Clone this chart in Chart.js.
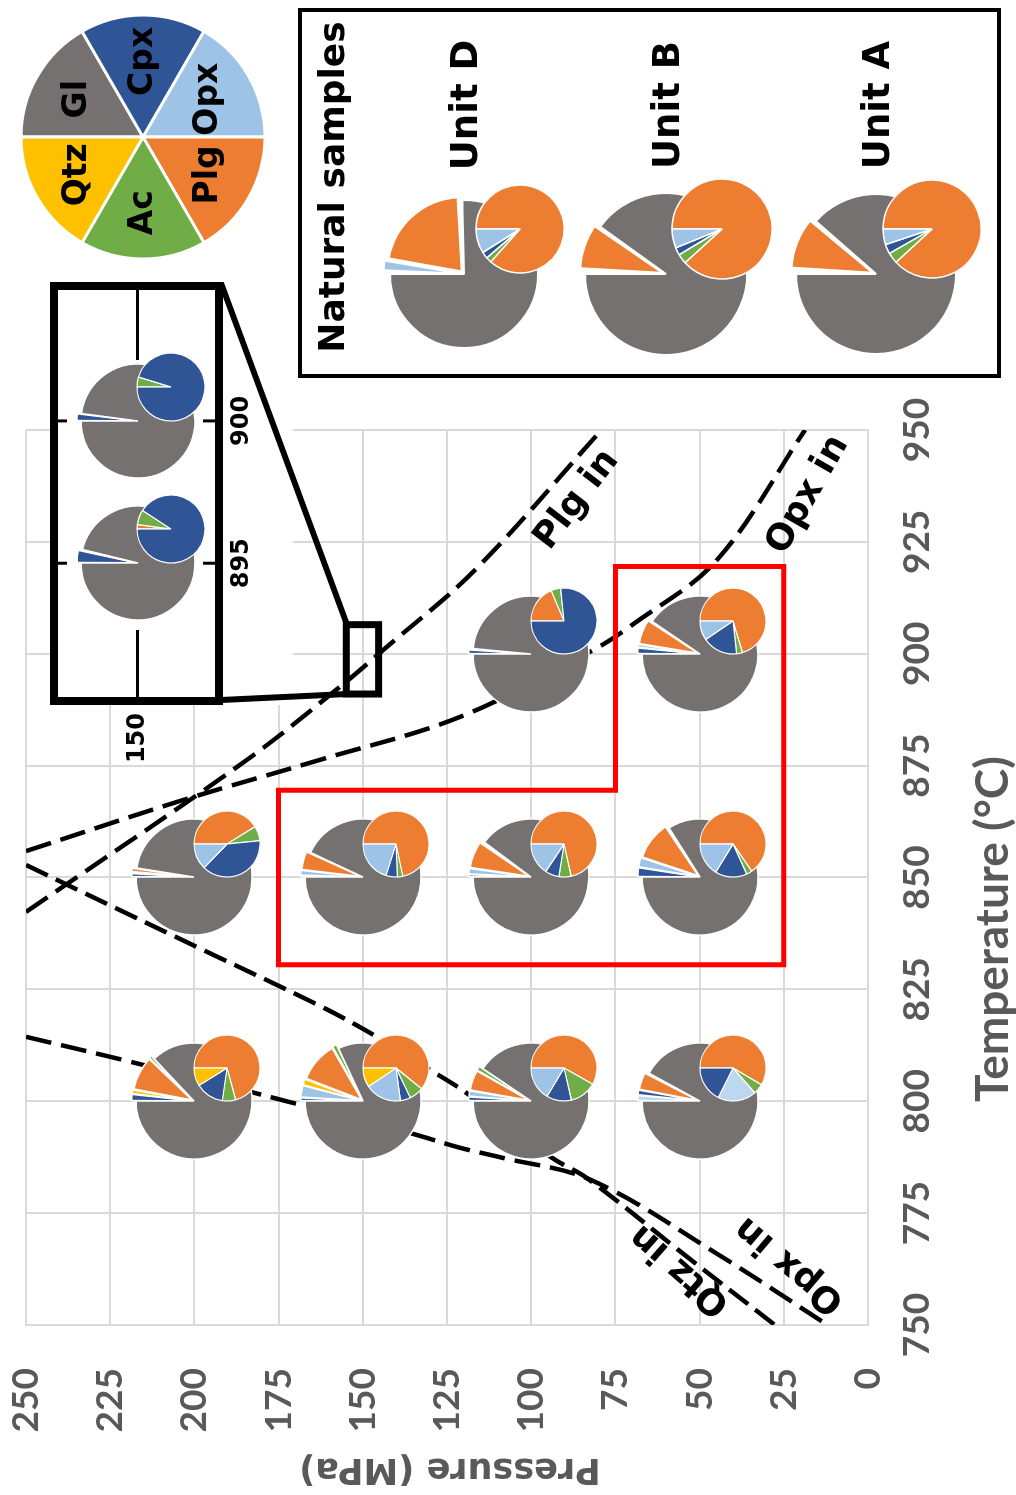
<!DOCTYPE html>
<html>
<head>
<meta charset="utf-8">
<script src="https://cdn.jsdelivr.net/npm/chart.js@4.4.1/dist/chart.umd.min.js"></script>
<style>
  html, body { margin: 0; padding: 0; background: #fff; width: 1016px; height: 1495px; overflow: hidden; }
  /* the figure is laid out landscape and turned a quarter turn counter-clockwise */
  #fig { position: absolute; left: 0; top: 0; width: 1495px; height: 1016px; background: #fff;
         transform-origin: 0 0; transform: translate(0px, 1495px) rotate(-90deg); }
  #fig canvas { position: absolute; }
  .lbl { position: absolute; white-space: nowrap; font-family: 'DejaVu Sans', sans-serif; font-weight: bold;
         color: #000; transform: translate(-50%, -50%); line-height: 1; }
  #natbox { position: absolute; box-sizing: border-box; border: 4px solid #000; background: #fff; }
</style>
</head>
<body>
<div id="fig"><canvas id="main" width="1495" height="1016"></canvas></div>
<script>
// ---------------- data ----------------
// experimental runs: temperature (°C) and pressure (MPa)
const runT = [800, 800, 800, 800, 850, 850, 850, 850, 900, 900];
const runP = [200, 150, 100, 50, 200, 150, 100, 50, 100, 50];
// modal proportions (%)
const runGl  = [87.0, 81.9, 90.55, 92.05, 97.5, 93.03, 89.8, 83.95, 98.5, 90.48];
const runPlg = [9.2, 11.0, 5.5, 4.65, 1.03, 5.0, 7.3, 10.5, 0.28, 6.7];
const runOpx = [0, 3.2, 1.55, 1.5, 0.32, 1.4, 1.6, 2.6, 0, 0.9];
const runCpx = [1.8, 0.9, 1.15, 1.4, 0.97, 0.39, 0.7, 2.5, 1.15, 1.65];
const runAc  = [0.85, 1.26, 1.25, 0.4, 0.18, 0.18, 0.6, 0.45, 0.07, 0.27];
const runQtz = [1.15, 1.7, 0, 0, 0, 0, 0, 0, 0, 0];

// close-up runs across the plagioclase-in curve
const zoomRunT = [895, 900];
const zoomRunP = [150, 150];
const zoomGl  = [96.2, 97.9];
const zoomPlg = [0.08, 0];
const zoomOpx = [0, 0];
const zoomCpx = [3.45, 2.0];
const zoomAc  = [0.27, 0.1];
const zoomQtz = [0, 0];

// natural samples
const natUnits = ['Unit D', 'Unit B', 'Unit A'];
const natGl  = [75.4, 90.08, 88.54];
const natPlg = [21.3, 8.75, 10.1];
const natOpx = [2.2, 0.61, 0.59];
const natCpx = [0.6, 0.24, 0.36];
const natAc  = [0.5, 0.32, 0.41];
const natQtz = [0, 0, 0];

// phase-in boundaries (T °C, P MPa)
const plgInT = [842.3, 876.3, 892.6, 900.8, 918.7, 949.6];
const plgInP = [250, 184.4, 156.8, 144.0, 116.7, 79.6];
const opxInHiT = [855.9, 867.3, 876.3, 885.9, 900.8, 906.4, 921.0, 950];
const opxInHiP = [250, 203.4, 162.7, 121.1, 81.7, 70.1, 44.8, 18.7];
const qtzInT = [852.8, 842.7, 833.8, 821.3, 814.4, 807.0, 801.8, 787.5, 782.8, 766.0, 750];
const qtzInP = [250, 222.1, 197.4, 162.7, 145.8, 130.0, 119.1, 94.1, 83.4, 55.0, 27.6];
const opxInLoT = [814.4, 809.4, 802.3, 799.8, 792.9, 789.6, 787.5, 782.4, 766.0, 750];
const opxInLoP = [250, 222.1, 184.4, 171.6, 136.0, 121.1, 109.3, 82.2, 45.0, 12.0];

// curve labels
const curveLabels = ['Plg in', 'Opx in', 'Qtz in', 'Opx in'];
const curveLabelT = [934.4, 935.5, 762.3, 763.4];
const curveLabelP = [86.4, 17.8, 55.8, 23.2];
const curveLabelAngle = [37.4, 29.7, -48.8, -49.9];

// axis ticks
const tempTicks = [750, 775, 800, 825, 850, 875, 900, 925, 950];
const presTicks = [0, 25, 50, 75, 100, 125, 150, 175, 200, 225, 250];

// outlined groups and close-up window
const groupT = [830.5, 869.5, 869.5, 919.5, 919.5, 830.5];
const groupP = [175, 175, 75, 75, 25, 25];
const windowT = [891, 906.5];
const windowP = [145.3, 154.9];
const closeUpT = [890.3, 904.6];
const closeUpP = [146.4, 153.7];
const closeUpTicksT = [895, 900];
const closeUpTicksP = [150];

// legend
const phaseNames = ['Gl', 'Cpx', 'Opx', 'Plg', 'Ac', 'Qtz'];

// ---------------- styles ----------------
const COL = { Gl: '#767171', Cpx: '#2F5597', Opx: '#9DC3E6', OpxPale: '#BDD7EE', Plg: '#ED7D31', Ac: '#70AD47', Qtz: '#FFC000' };
const GRID = '#D9D9D9';
const AXIS_TXT = '#595959';
const HIDDEN = 'rgba(0,0,0,0)';
const paleOpxRuns = [3];   // run drawn with the pale orthopyroxene tint, placed ahead of Cpx

const fig = document.getElementById('fig');

function bigSlices(gl, plg, opx, cpx, ac, qtz, pale) {
  const px = pale ? [['Opx', opx, COL.OpxPale], ['Cpx', cpx, COL.Cpx]] : [['Cpx', cpx, COL.Cpx], ['Opx', opx, COL.Opx]];
  const s = [...px, ['Qtz', qtz, COL.Qtz], ['Plg', plg, COL.Plg], ['Ac', ac, COL.Ac], ['Gl', gl, COL.Gl]];
  return { values: s.map(d => d[1]), colors: s.map(d => d[2]), names: s.map(d => d[0]) };
}
function smallSlices(plg, opx, cpx, ac, qtz, pale) {
  const px = pale ? [['Opx', opx, COL.OpxPale], ['Cpx', cpx, COL.Cpx]] : [['Cpx', cpx, COL.Cpx], ['Opx', opx, COL.Opx]];
  const s = [['Plg', plg, COL.Plg], ['Ac', ac, COL.Ac], ...px, ['Qtz', qtz, COL.Qtz]];
  return { values: s.map(d => d[1]), colors: s.map(d => d[2]), names: s.map(d => d[0]) };
}

function addPie(cx, cy, r, sl, opts = {}) {
  const offsets = opts.offsets || sl.values.map(() => 0);
  const bw = opts.borderWidth ?? 1.5;
  const pad = Math.ceil(Math.max(0, ...offsets) * 1.4 + bw + 8);
  const size = Math.ceil(2 * (r + pad));
  const cv = document.createElement('canvas');
  cv.width = size; cv.height = size;
  cv.style.left = (cx - size / 2) + 'px';
  cv.style.top = (cy - size / 2) + 'px';
  cv.style.width = size + 'px'; cv.style.height = size + 'px';
  fig.appendChild(cv);
  return new Chart(cv, {
    type: 'pie',
    data: { labels: sl.names, datasets: [{ data: sl.values, backgroundColor: sl.colors, borderColor: '#fff',
            borderWidth: bw, offset: offsets, radius: r }] },
    options: { responsive: false, animation: false, events: [], devicePixelRatio: 1, radius: r,
               layout: { padding: 0 }, plugins: { legend: { display: false }, tooltip: { enabled: false } } },
    plugins: opts.plugins || []
  });
}
function explode(sl, amount) { return sl.names.map(n => n === 'Gl' ? 0 : amount); }

// ---------------- main P–T diagram ----------------
const marks = {
  id: 'marks',
  afterDatasetsDraw(chart) {
    const { ctx } = chart, xs = chart.scales.x, ys = chart.scales.y;
    ctx.save();
    // outlined run group
    ctx.strokeStyle = '#FF0000'; ctx.lineWidth = 5; ctx.lineJoin = 'miter';
    ctx.beginPath();
    groupT.forEach((t, i) => { const px = xs.getPixelForValue(t), py = ys.getPixelForValue(groupP[i]); i ? ctx.lineTo(px, py) : ctx.moveTo(px, py); });
    ctx.closePath(); ctx.stroke();
    // close-up window
    const wl = xs.getPixelForValue(windowT[0]), wr = xs.getPixelForValue(windowT[1]);
    const wt = ys.getPixelForValue(windowP[1]), wb = ys.getPixelForValue(windowP[0]);
    ctx.strokeStyle = '#000'; ctx.lineWidth = 7;
    ctx.strokeRect(wl, wt, wr - wl, wb - wt);
    // curve labels
    ctx.fillStyle = '#000'; ctx.font = "bold 36px 'DejaVu Sans'"; ctx.textAlign = 'center'; ctx.textBaseline = 'middle';
    curveLabels.forEach((s, i) => {
      ctx.save();
      ctx.translate(xs.getPixelForValue(curveLabelT[i]), ys.getPixelForValue(curveLabelP[i]));
      ctx.rotate(curveLabelAngle[i] * Math.PI / 180);
      ctx.fillText(s, 0, 0);
      ctx.restore();
    });
    ctx.restore();
  },
  afterDraw(chart) {
    const { ctx } = chart;
    ctx.save();
    ctx.fillStyle = AXIS_TXT; ctx.textAlign = 'center'; ctx.textBaseline = 'middle';
    ctx.font = "bold 46px Lato";
    ctx.fillText('Temperature (°C)', 566, 993);
    ctx.translate(27, 450); ctx.rotate(-Math.PI / 2);
    ctx.font = "bold 35px 'DejaVu Sans'";
    ctx.fillText('Pressure (MPa)', 0, 0);
    ctx.restore();
  }
};

function curve(ts, ps, dash) {
  return { data: ts.map((t, i) => ({ x: t, y: ps[i] })), showLine: true, borderColor: '#000', borderWidth: 4.5,
           borderDash: dash, pointRadius: 0, tension: 0.35, fill: false, borderCapStyle: 'butt' };
}

const mainChart = new Chart(document.getElementById('main'), {
  type: 'scatter',
  data: { datasets: [
    curve(plgInT, plgInP, [26, 10]),
    curve(opxInHiT, opxInHiP, [26, 10]),
    curve(qtzInT, qtzInP, [24, 9]),
    curve(opxInLoT, opxInLoP, [26, 10])
  ] },
  options: {
    responsive: false, animation: false, events: [], devicePixelRatio: 1,
    layout: { padding: { left: 0, top: 26, right: 430, bottom: 0 } },
    plugins: { legend: { display: false }, tooltip: { enabled: false } },
    scales: {
      x: { type: 'linear', min: 750, max: 950,
           afterBuildTicks: s => { s.ticks = tempTicks.map(v => ({ value: v })); },
           afterFit: s => { s.height = 148; },
           ticks: { color: AXIS_TXT, font: { family: 'Lato', size: 37, weight: 'bold' }, padding: 2, maxRotation: 0 },
           grid: { color: GRID, lineWidth: 2, drawTicks: true, tickLength: 25, tickColor: HIDDEN },
           border: { display: true, color: GRID, width: 2 } },
      y: { type: 'linear', min: 0, max: 250,
           afterBuildTicks: s => { s.ticks = presTicks.map(v => ({ value: v })); },
           afterFit: s => { s.width = 170; },
           ticks: { color: AXIS_TXT, font: { family: 'Lato', size: 37, weight: 'bold' }, padding: 2 },
           grid: { color: GRID, lineWidth: 2, drawTicks: true, tickLength: 41, tickColor: HIDDEN },
           border: { display: true, color: GRID, width: 2 } }
    }
  },
  plugins: [marks]
});

const MX = mainChart.scales.x, MY = mainChart.scales.y;

// pies at each run
const BIG_R = 58, SMALL_R = 33, SMALL_DX = 33, SMALL_DY = 33;
runT.forEach((t, i) => {
  const cx = MX.getPixelForValue(t), cy = MY.getPixelForValue(runP[i]);
  const pale = paleOpxRuns.includes(i);
  const b = bigSlices(runGl[i], runPlg[i], runOpx[i], runCpx[i], runAc[i], runQtz[i], pale);
  addPie(cx, cy, BIG_R, b, { offsets: explode(b, 9) });
  const s = smallSlices(runPlg[i], runOpx[i], runCpx[i], runAc[i], runQtz[i], pale);
  addPie(cx + SMALL_DX, cy + SMALL_DY, SMALL_R, s, { borderWidth: 1.2 });
});

// ---------------- close-up panel ----------------
const CU = { left: 700, top: 20, w: 560, h: 400 };     // canvas placement
const CU_AREA = { left: 98, top: 38, right: 505, bottom: 195 }; // plot box within it
const cuCanvas = document.createElement('canvas');
cuCanvas.width = CU.w; cuCanvas.height = CU.h;
cuCanvas.style.left = CU.left + 'px'; cuCanvas.style.top = CU.top + 'px';
cuCanvas.style.width = CU.w + 'px'; cuCanvas.style.height = CU.h + 'px';
fig.appendChild(cuCanvas);

const cuFrame = {
  id: 'cuFrame',
  beforeDraw(chart) {
    const { ctx } = chart;
    ctx.save(); ctx.fillStyle = '#fff';
    ctx.fillRect(90, 33, 423, 240);
    ctx.restore();
  },
  afterDraw(chart) {
    const { ctx, chartArea: a } = chart, xs = chart.scales.x, ys = chart.scales.y;
    ctx.save();
    ctx.strokeStyle = '#000';
    ctx.lineWidth = 8;
    ctx.strokeRect(a.left - 4, a.top - 4, a.right - a.left + 8, a.bottom - a.top + 8);
    ctx.lineWidth = 3;
    closeUpTicksT.forEach(t => {
      const px = xs.getPixelForValue(t);
      ctx.beginPath(); ctx.moveTo(px, a.top); ctx.lineTo(px, a.top + 9); ctx.stroke();
      ctx.beginPath(); ctx.moveTo(px, a.bottom); ctx.lineTo(px, a.bottom - 12); ctx.stroke();
    });
    closeUpTicksP.forEach(p => {
      const py = ys.getPixelForValue(p);
      ctx.beginPath(); ctx.moveTo(a.left, py); ctx.lineTo(a.left + 67, py); ctx.stroke();
      ctx.beginPath(); ctx.moveTo(a.right, py); ctx.lineTo(a.right - 70, py); ctx.stroke();
    });
    // leader lines from the window on the main diagram
    const wl = MX.getPixelForValue(windowT[0]) - CU.left, wr = MX.getPixelForValue(windowT[1]) - CU.left;
    const wt = MY.getPixelForValue(windowP[1]) - CU.top;
    ctx.lineWidth = 6;
    ctx.beginPath(); ctx.moveTo(a.left - 3, a.bottom + 6); ctx.lineTo(wl, wt); ctx.stroke();
    ctx.beginPath(); ctx.moveTo(a.right + 7, a.bottom + 6); ctx.lineTo(wr + 2, wt); ctx.stroke();
    ctx.restore();
  }
};

const cuChart = new Chart(cuCanvas, {
  type: 'scatter',
  data: { datasets: [] },
  options: {
    responsive: false, animation: false, events: [], devicePixelRatio: 1,
    layout: { padding: { left: 0, top: CU_AREA.top, right: CU.w - CU_AREA.right, bottom: 0 } },
    plugins: { legend: { display: false }, tooltip: { enabled: false } },
    scales: {
      x: { type: 'linear', min: closeUpT[0], max: closeUpT[1],
           afterBuildTicks: s => { s.ticks = closeUpTicksT.map(v => ({ value: v })); },
           afterFit: s => { s.height = CU.h - CU_AREA.bottom; },
           ticks: { color: '#000', font: { family: 'DejaVu Sans', size: 24, weight: 'bold' }, padding: 2, maxRotation: 0 },
           grid: { display: true, drawOnChartArea: false, drawTicks: true, tickLength: 10, tickColor: HIDDEN },
           border: { display: false } },
      y: { type: 'linear', min: closeUpP[0], max: closeUpP[1],
           afterBuildTicks: s => { s.ticks = closeUpTicksP.map(v => ({ value: v })); },
           afterFit: s => { s.width = CU_AREA.left; },
           ticks: { color: '#000', font: { family: 'DejaVu Sans', size: 24, weight: 'bold' }, padding: 2 },
           grid: { display: true, drawOnChartArea: false, drawTicks: true, tickLength: 14, tickColor: HIDDEN },
           border: { display: false } }
    }
  },
  plugins: [cuFrame]
});

zoomRunT.forEach((t, i) => {
  const cx = CU.left + cuChart.scales.x.getPixelForValue(t);
  const cy = CU.top + cuChart.scales.y.getPixelForValue(zoomRunP[i]);
  const b = bigSlices(zoomGl[i], zoomPlg[i], zoomOpx[i], zoomCpx[i], zoomAc[i], zoomQtz[i], false);
  addPie(cx, cy, 57, b, { offsets: explode(b, 9) });
  const s = smallSlices(zoomPlg[i], zoomOpx[i], zoomCpx[i], zoomAc[i], zoomQtz[i], false);
  addPie(cx + 34, cy + 33, 34, s, { borderWidth: 1.2 });
});

// ---------------- natural samples panel ----------------
const NB = { left: 1117, top: 298, right: 1487, bottom: 1001 };
const nb = document.createElement('div');
nb.id = 'natbox';
Object.assign(nb.style, { left: NB.left + 'px', top: NB.top + 'px', width: (NB.right - NB.left) + 'px', height: (NB.bottom - NB.top) + 'px' });
fig.appendChild(nb);
function addText(s, x, y, size) {
  const d = document.createElement('div');
  d.className = 'lbl'; d.textContent = s;
  Object.assign(d.style, { left: x + 'px', top: y + 'px', fontSize: size + 'px' });
  fig.appendChild(d);
}
addText('Natural samples', 1308, 332, 36);
const natCol = [464, 666, 876];
const natBigR = [74, 81, 80], natSmallR = [44, 50, 49];
natUnits.forEach((u, i) => {
  addText(u, 1390, natCol[i], 37);
  const cx = 1221, cy = natCol[i];
  const b = bigSlices(natGl[i], natPlg[i], natOpx[i], natCpx[i], natAc[i], natQtz[i], false);
  addPie(cx, cy, natBigR[i], b, { offsets: explode(b, 14), borderWidth: 2 });
  const s = smallSlices(natPlg[i], natOpx[i], natCpx[i], natAc[i], natQtz[i], false);
  addPie(cx + 45, cy + 56, natSmallR[i], s, { borderWidth: 1.5 });
});

// ---------------- phase key ----------------
const keyLabels = {
  id: 'keyLabels',
  afterDatasetsDraw(chart) {
    const { ctx } = chart;
    ctx.save();
    ctx.fillStyle = '#000'; ctx.font = "bold 33px 'DejaVu Sans'"; ctx.textAlign = 'center'; ctx.textBaseline = 'middle';
    chart.getDatasetMeta(0).data.forEach((arc, i) => {
      const mid = (arc.startAngle + arc.endAngle) / 2, rr = arc.outerRadius * 0.62;
      ctx.fillText(phaseNames[i], arc.x + Math.cos(mid) * rr, arc.y + Math.sin(mid) * rr);
    });
    ctx.restore();
  }
};
addPie(1357.5, 142.5, 122,
  { values: phaseNames.map(() => 1), colors: phaseNames.map(n => COL[n]), names: phaseNames },
  { borderWidth: 3, plugins: [keyLabels] });
</script>
</body>
</html>
